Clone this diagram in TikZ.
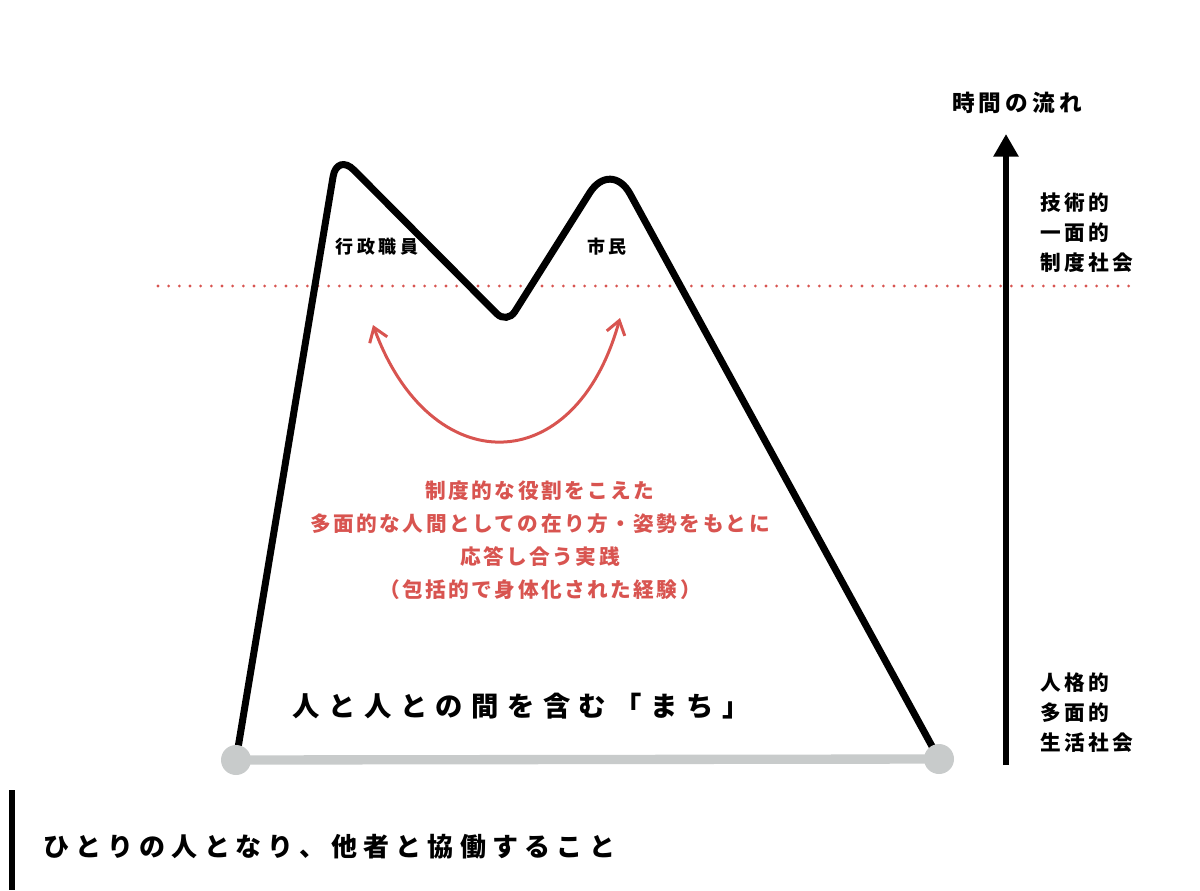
\documentclass[tikz,border=0pt]{standalone}
\usepackage{fontspec}
\setmainfont{Noto Sans CJK JP}[LetterSpace=20]
\usepackage{tikz}
\usetikzlibrary{arrows.meta}
\definecolor{machired}{RGB}{216,84,80}
\definecolor{machigray}{RGB}{200,203,203}

\begin{document}
\begin{tikzpicture}[x=0.75pt, y=-0.75pt,
sidetext/.style={align=left, anchor=west, font=\fontsize{15.5}{22.5}\selectfont\bfseries\addfontfeature{LetterSpace=16}},
peaktext/.style={font=\fontsize{13.5}{16}\selectfont\bfseries},
]
\useasboundingbox (0,0) rectangle (1200,890);

% level line
\coordinate (dotl) at (158,286);
\coordinate (dotr) at (1130,286);
\draw[machired, line width=2.3pt, line cap=round, dash pattern=on 0pt off 8pt] (dotl) -- (dotr);

% mountain
\coordinate (basel) at (236,760);
\coordinate (baser) at (939,759);
\coordinate (peakl) at (337,153);
\coordinate (valley) at (507,324);
\coordinate (peakr) at (611,159);
\draw[line width=5.25pt] (basel) [rounded corners=18pt] -- (peakl) [rounded corners=11pt] -- (valley) [rounded corners=30pt] -- (peakr) [sharp corners] -- (baser);

% ground
\draw[machigray, line width=7pt] (basel) -- (baser);
\fill[machigray] (basel) circle (15);
\fill[machigray] (baser) circle (15);

\node[peaktext] (gyosei) at (377,247) {行政職員};
\node[peaktext] (shimin) at (607,247) {市民};

% exchange
\coordinate (arrl) at (373,325);
\coordinate (arrr) at (620,318);
\draw[machired, line width=2.25pt, {Straight Barb[length=10pt, width=14pt]}-{Straight Barb[length=10pt, width=14pt]}] (arrl) .. controls (430,481) and (575,481) .. (arrr);

\node[machired, align=center, font=\fontsize{15.5}{24.75}\selectfont\bfseries\addfontfeature{LetterSpace=12}] (jissen) at (540,540) {制度的な役割をこえた\\多面的な人間としての在り方・姿勢をもとに\\応答し合う実践\\（包括的で身体化された経験）};

\node[font=\fontsize{20.5}{22}\selectfont\bfseries\addfontfeature{LetterSpace=31}] (machi) at (521,706) {人と人との間を含む「まち」};

% time axis
\coordinate (timebot) at (1006,765);
\coordinate (timetop) at (1006,134);
\draw[line width=4.5pt, -{Triangle[length=17pt, width=18pt]}] (timebot) -- (timetop);
\node[font=\fontsize{17}{18}\selectfont\bfseries\addfontfeature{LetterSpace=18}] (jikan) at (1017,103) {時間の流れ};
\node[sidetext] (gijutsu) at (1036,233) {技術的\\一面的\\制度社会};
\node[sidetext] (jinkaku) at (1036,713) {人格的\\多面的\\生活社会};

% caption
\coordinate (barl) at (12,790);
\coordinate (barb) at (12,890);
\draw[line width=4pt] (barl) -- (barb);
\node[anchor=west, font=\fontsize{19.5}{20}\selectfont\bfseries\addfontfeature{LetterSpace=24}] (hitori) at (39,847) {ひとりの人となり、他者と協働すること};
\end{tikzpicture}
\end{document}
